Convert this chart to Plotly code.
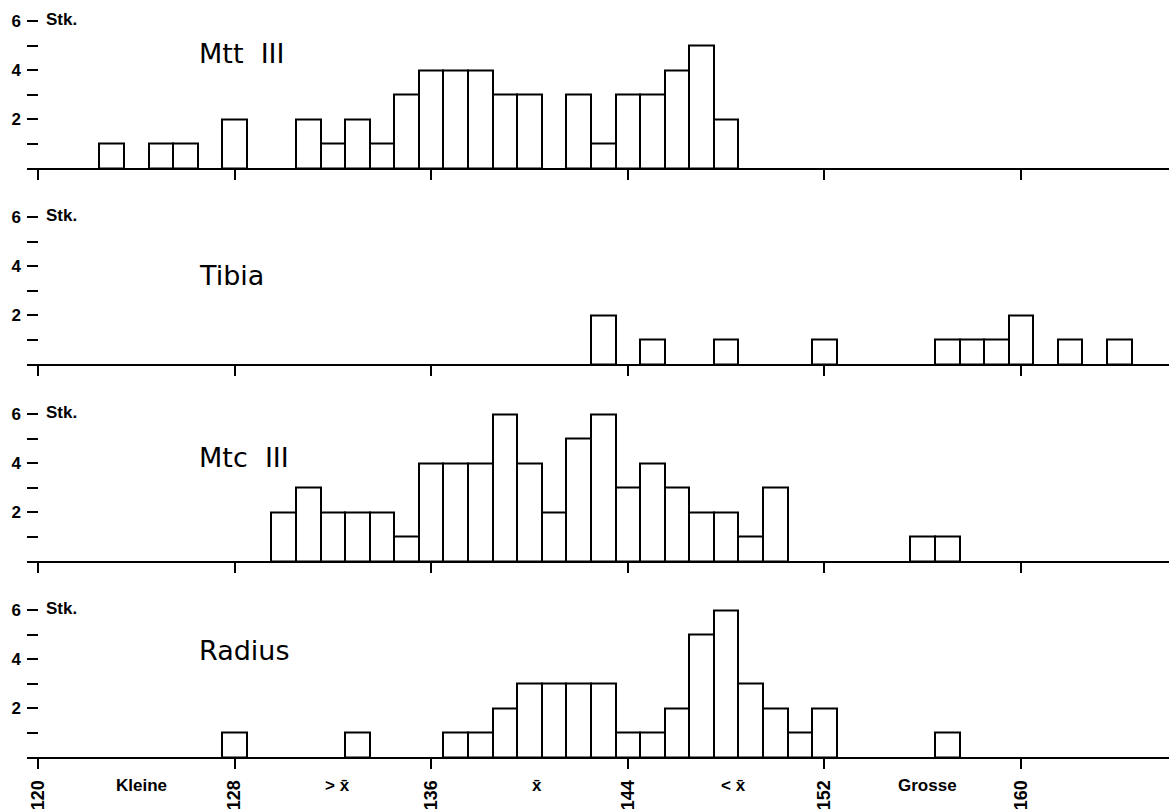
import plotly.graph_objects as go

# ---------------- data ----------------
panel_titles = ["Mtt  III", "Tibia", "Mtc  III", "Radius"]

mtt_x = [123, 125, 126, 128, 131, 132, 133, 134, 135, 136, 137, 138, 139, 140,
         142, 143, 144, 145, 146, 147, 148]
mtt_n = [1, 1, 1, 2, 2, 1, 2, 1, 3, 4, 4, 4, 3, 3, 3, 1, 3, 3, 4, 5, 2]

tibia_x = [143, 145, 148, 152, 157, 158, 159, 160, 162, 164]
tibia_n = [2, 1, 1, 1, 1, 1, 1, 2, 1, 1]

mtc_x = [130, 131, 132, 133, 134, 135, 136, 137, 138, 139, 140, 141, 142, 143,
         144, 145, 146, 147, 148, 149, 150, 156, 157]
mtc_n = [2, 3, 2, 2, 2, 1, 4, 4, 4, 6, 4, 2, 5, 6, 3, 4, 3, 2, 2, 1, 3, 1, 1]

radius_x = [128, 133, 137, 138, 139, 140, 141, 142, 143, 144, 145, 146, 147,
            148, 149, 150, 151, 152, 157]
radius_n = [1, 1, 1, 1, 2, 3, 3, 3, 3, 1, 1, 2, 5, 6, 3, 2, 1, 2, 1]

x_ticks = [120, 128, 136, 144, 152, 160]
y_ticks = [1, 2, 3, 4, 5, 6]
y_ticktext = ["", "2", "", "4", "", "6"]
y_unit_label = "Stk."

class_labels = ["Kleine", "> x\u0304", "x\u0304", "< x\u0304", "Grosse"]
class_pos = [124.2, 132.2, 140.3, 148.3, 156.2]

series = [(mtt_x, mtt_n), (tibia_x, tibia_n), (mtc_x, mtc_n), (radius_x, radius_n)]

# ---------------- layout geometry ----------------
W, H = 1169, 809
left_px = 27
px_per_unit_x = (1021 - 38) / 40.0
x_lo = 120 - (38 - left_px) / px_per_unit_x
x_hi = 120 + (W - 38) / px_per_unit_x

baselines = [168, 364, 561, 757]
y_unit_px = 24.5
y_top = 6.8

title_y = [4.69, 3.63, 4.24, 4.33]

font_lbl = dict(family="Liberation Sans, Arial, sans-serif", size=17, color="black", weight="bold")
font_xt = dict(family="Liberation Sans, Arial, sans-serif", size=18, color="black", weight="bold")
font_cls = dict(family="Liberation Sans, Arial, sans-serif", size=17, color="black", weight="bold")
font_title = dict(family="DejaVu Sans, sans-serif", size=27, color="black")

fig = go.Figure()
layout = dict(
    width=W, height=H,
    margin=dict(l=0, r=0, t=0, b=0, pad=0),
    paper_bgcolor="white", plot_bgcolor="white",
    showlegend=False,
    bargap=0,
    annotations=[],
)

for i, ((xs, ns), title) in enumerate(zip(series, panel_titles)):
    k = "" if i == 0 else str(i + 1)
    xa, ya = "x" + k, "y" + k
    fig.add_trace(go.Bar(
        x=xs, y=ns, width=1, xaxis=xa, yaxis=ya,
        marker=dict(color="white", line=dict(color="black", width=2)),
        hoverinfo="skip",
    ))
    b = baselines[i]
    d0 = (H - b) / H
    d1 = (H - b + y_top * y_unit_px) / H
    last = (i == 3)
    layout["xaxis" + k] = dict(
        domain=[left_px / W, 1], range=[x_lo, x_hi], anchor=ya,
        showline=True, linecolor="black", linewidth=2,
        showgrid=False, zeroline=False, automargin=False,
        tickmode="array", tickvals=x_ticks,
        ticks="outside", ticklen=10, tickwidth=2, tickcolor="black",
        showticklabels=last, tickangle=-90, ticklabelstandoff=4,
        tickfont=font_xt, fixedrange=True,
    )
    layout["yaxis" + k] = dict(
        domain=[d0, min(d1, 1)], range=[0, y_top], anchor=xa,
        showline=False, showgrid=False, zeroline=False, automargin=False,
        tickmode="array", tickvals=y_ticks, ticktext=y_ticktext,
        ticks="inside", ticklen=11, tickwidth=2, tickcolor="black",
        tickfont=font_lbl, ticklabelstandoff=5, fixedrange=True,
    )
    layout["annotations"].append(dict(
        text=y_unit_label, xref="paper", yref=ya, x=44 / W, y=6.05,
        xanchor="left", yanchor="middle", showarrow=False, font=font_lbl,
    ))
    layout["annotations"].append(dict(
        text=title, xref="paper", yref=ya, x=197 / W, y=title_y[i],
        xanchor="left", yanchor="middle", showarrow=False, font=font_title,
    ))

for lbl, pos in zip(class_labels, class_pos):
    layout["annotations"].append(dict(
        text=lbl, xref="x4", yref="paper", x=pos, y=(H - 785) / H,
        xanchor="center", yanchor="middle", showarrow=False, font=font_cls,
    ))

fig.update_layout(**layout)
fig.write_html(
    "out.html",
    config={"displayModeBar": False},
    post_script="document.body.style.margin='0';document.body.style.overflow='hidden';",
)
